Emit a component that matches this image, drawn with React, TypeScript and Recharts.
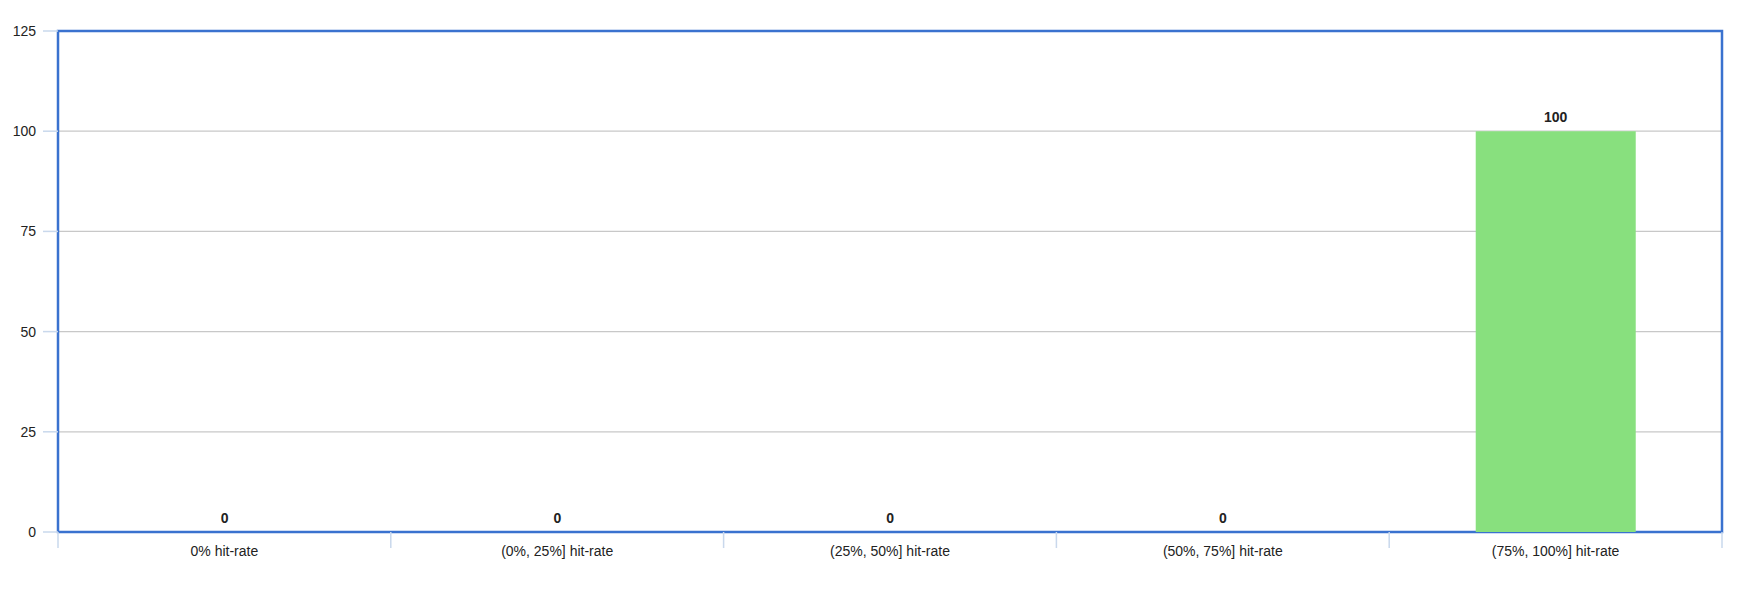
import { BarChart, Bar, Cell, XAxis, YAxis, CartesianGrid, LabelList, ReferenceArea, ReferenceLine } from 'recharts'

const CATEGORIES = ['0% hit-rate', '(0%, 25%] hit-rate', '(25%, 50%] hit-rate', '(50%, 75%] hit-rate', '(75%, 100%] hit-rate']
const COUNTS = [0, 0, 0, 0, 100]
const Y_TICKS = [0, 25, 50, 75, 100, 125]

const data = CATEGORIES.map((name, i) => ({ name, value: COUNTS[i] }))

const BLUE = '#3a72cf'
const TICK_BLUE = '#c9d8ec'
const GREEN = '#88e07e'
const FONT = '"Liberation Sans", Arial, sans-serif'

export default function App() {
  return (
    <div style={{ fontFamily: FONT }}>
      <BarChart width={1740} height={582} data={data} margin={{ top: 23, right: 26, left: 0, bottom: 28 }} barCategoryGap="26%">
        <CartesianGrid vertical={false} stroke="#c8c8c8" strokeWidth={1.2} />
        <XAxis dataKey="name" height={30} axisLine={false} tickLine={false}
          tickSize={0} tickMargin={14} interval={0} tick={{ fontSize: 14, fill: '#222', fontFamily: FONT }} />
        <YAxis width={50} domain={[0, 125]} ticks={Y_TICKS} axisLine={false}
          tickSize={15} tickMargin={7} tickLine={{ stroke: TICK_BLUE, strokeWidth: 1.5 }}
          tick={{ fontSize: 14, fill: '#222', fontFamily: FONT }} />
        {/* boundary ticks under the x axis */}
        {CATEGORIES.map(c => (
          <ReferenceLine key={c} segment={[{ x: c, y: 0 }, { x: c, y: -4 }]} position="start" ifOverflow="visible"
            stroke={TICK_BLUE} strokeWidth={1.5} />
        ))}
        <ReferenceLine segment={[{ x: CATEGORIES[CATEGORIES.length - 1], y: 0 }, { x: CATEGORIES[CATEGORIES.length - 1], y: -4 }]}
          position="end" ifOverflow="visible" stroke={TICK_BLUE} strokeWidth={1.5} />
        <Bar dataKey="value" fill={GREEN} minPointSize={0.01} isAnimationActive={false}>
          {data.map((d, i) => (
            <Cell key={i} fill={d.value > 0 ? GREEN : 'transparent'} />
          ))}
          <LabelList dataKey="value" position="top" offset={9} style={{ fontSize: 14, fontWeight: 'bold', fill: '#222', fontFamily: FONT }} />
        </Bar>
        {/* plot frame */}
        <ReferenceArea y1={0} y2={125} fill="none" stroke={BLUE} strokeWidth={2.5} ifOverflow="visible" />
      </BarChart>
    </div>
  )
}
